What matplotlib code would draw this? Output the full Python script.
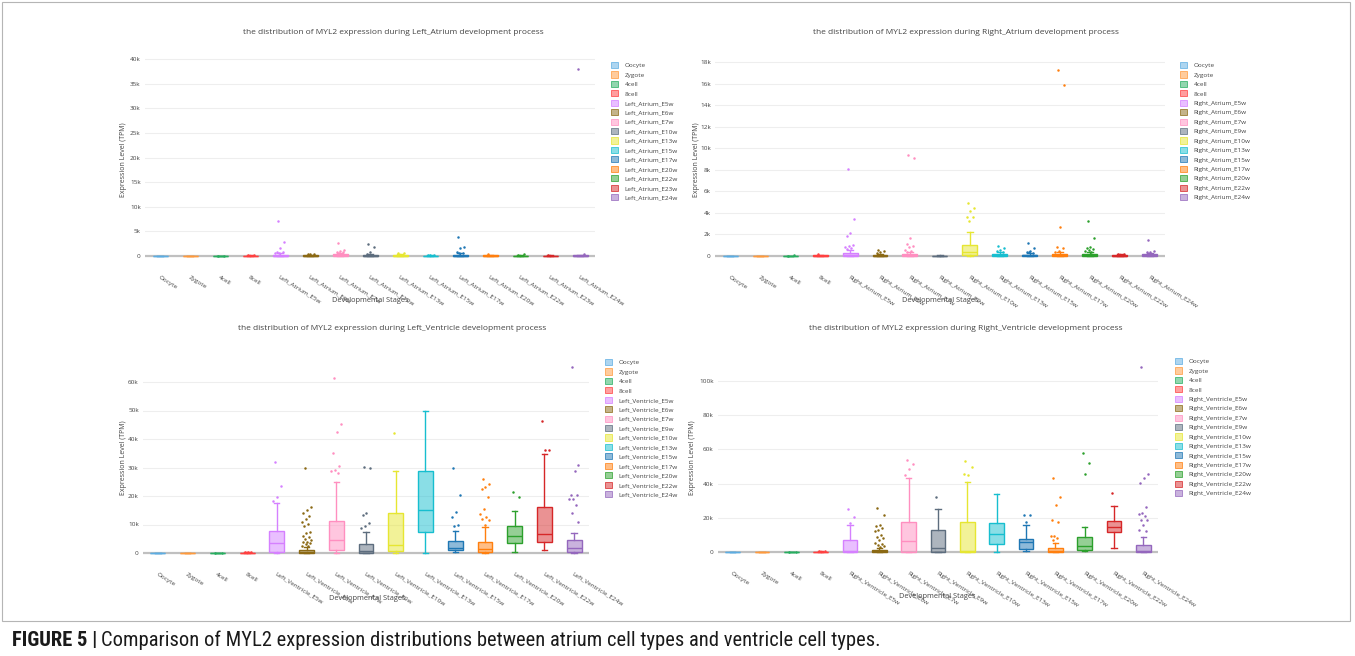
import matplotlib
matplotlib.use("Agg")
import matplotlib.pyplot as plt
from matplotlib.patches import Patch, Rectangle
from matplotlib.ticker import FuncFormatter
from matplotlib import font_manager as fm
import numpy as np

plt.rcParams['font.family'] = ['Open Sans', 'DejaVu Sans']

# ---------------- data (TPM) ----------------
BASE = ['Oocyte', 'Zygote', '4cell', '8cell']

LA_stages = BASE + ['Left_Atrium_E5w', 'Left_Atrium_E6w', 'Left_Atrium_E7w', 'Left_Atrium_E10w',
                    'Left_Atrium_E13w', 'Left_Atrium_E15w', 'Left_Atrium_E17w', 'Left_Atrium_E20w',
                    'Left_Atrium_E22w', 'Left_Atrium_E23w', 'Left_Atrium_E24w']
LA_q1 = [0, 0, 0, 10, 20, 5, 30, 10, 20, 5, 20, 10, 5, 5, 10]
LA_med = [0, 0, 0, 40, 80, 40, 120, 60, 100, 30, 100, 50, 40, 20, 60]
LA_q3 = [2, 3, 5, 80, 250, 120, 320, 180, 250, 80, 250, 120, 90, 60, 150]
LA_lo = [0, 0, 0, 0, 0, 0, 0, 0, 0, 0, 0, 0, 0, 0, 0]
LA_hi = [5, 6, 10, 150, 550, 280, 650, 400, 500, 180, 550, 250, 200, 120, 300]
LA_out = [[], [], [60, 90], [180, 220],
          [7100, 2850, 1650, 850, 720, 640, 600],
          [420, 380, 330],
          [2700, 1200, 1050, 900, 800, 700],
          [2500, 1900, 800, 450],
          [620, 580],
          [250, 220, 260],
          [3800, 1750, 1550, 900, 650, 700],
          [380],
          [300, 320],
          [150],
          [37900, 350]]

RA_stages = BASE + ['Right_Atrium_E5w', 'Right_Atrium_E6w', 'Right_Atrium_E7w', 'Right_Atrium_E9w',
                    'Right_Atrium_E10w', 'Right_Atrium_E13w', 'Right_Atrium_E15w', 'Right_Atrium_E17w',
                    'Right_Atrium_E20w', 'Right_Atrium_E22w', 'Right_Atrium_E24w']
RA_q1 = [0, 0, 0, 10, 20, 5, 20, 0, 120, 30, 20, 20, 30, 10, 20]
RA_med = [0, 0, 0, 30, 80, 30, 60, 10, 350, 80, 60, 80, 80, 40, 60]
RA_q3 = [2, 3, 5, 60, 250, 80, 150, 30, 1000, 180, 120, 200, 180, 80, 150]
RA_lo = [0, 0, 0, 0, 0, 0, 0, 0, 0, 0, 0, 0, 0, 0, 0]
RA_hi = [5, 6, 10, 120, 550, 180, 350, 60, 2200, 350, 250, 400, 350, 150, 280]
RA_out = [[], [], [40, 60], [150],
          [8050, 3400, 2100, 1850, 1000, 950, 800, 700, 650],
          [600, 420, 330, 250],
          [9350, 9050, 1700, 1100, 950, 800, 600, 450, 400],
          [],
          [4900, 4500, 4150, 3650, 3650, 3250],
          [900, 700, 550, 450, 400],
          [1200, 700, 500, 400, 300, 350],
          [17300, 15900, 2700, 850, 700, 450, 350],
          [3250, 1700, 820, 750, 650, 550, 450, 400],
          [200, 180],
          [1500, 450, 380, 350]]

LV_stages = BASE + ['Left_Ventricle_E5w', 'Left_Ventricle_E6w', 'Left_Ventricle_E7w', 'Left_Ventricle_E9w',
                    'Left_Ventricle_E10w', 'Left_Ventricle_E13w', 'Left_Ventricle_E15w', 'Left_Ventricle_E17w',
                    'Left_Ventricle_E20w', 'Left_Ventricle_E22w', 'Left_Ventricle_E24w']
LV_q1 = [0, 0, 0, 20, 500, 50, 1200, 100, 600, 7200, 1000, 200, 3400, 4000, 500]
LV_med = [0, 0, 0, 60, 3500, 300, 4400, 700, 2700, 15000, 1750, 1300, 5950, 6650, 1600]
LV_q3 = [5, 5, 10, 150, 7700, 900, 11400, 3150, 13900, 28600, 4100, 3850, 9300, 16300, 4400]
LV_lo = [0, 0, 0, 0, 0, 0, 0, 0, 0, 0, 300, 0, 300, 1200, 0]
LV_hi = [10, 10, 20, 300, 17500, 2000, 24900, 7500, 28800, 49700, 7800, 9000, 14800, 34900, 7000]
LV_out = [[], [], [100, 120], [300, 350, 250],
          [32000, 23600, 19800, 18300],
          [30000, 16100, 15000, 14000, 13000, 12000, 11000, 10200, 9500, 7500, 7000, 6000,
           5500, 5000, 4500, 4000, 3800, 3500, 3000, 2600, 2300],
          [61300, 45300, 42600, 35200, 30600, 29000, 28800, 27900],
          [30100, 29800, 14200, 13300, 10500, 9400, 8800],
          [42100],
          [],
          [30000, 20400, 14500, 12800, 9800, 9600],
          [25900, 24300, 23100, 22600, 19600, 15300, 13600, 12500, 12100, 11600, 9900],
          [21500, 19800],
          [46300, 36300, 36300],
          [65200, 31000, 28900, 20300, 20200, 19000, 18800, 16900, 14100, 11000]]

RV_stages = BASE + ['Right_Ventricle_E5w', 'Right_Ventricle_E6w', 'Right_Ventricle_E7w', 'Right_Ventricle_E9w',
                    'Right_Ventricle_E10w', 'Right_Ventricle_E13w', 'Right_Ventricle_E15w', 'Right_Ventricle_E17w',
                    'Right_Ventricle_E20w', 'Right_Ventricle_E22w', 'Right_Ventricle_E24w']
RV_q1 = [0, 0, 0, 20, 100, 50, 200, 200, 100, 4850, 1900, 200, 1200, 11650, 100]
RV_med = [0, 0, 0, 80, 300, 300, 6200, 2500, 400, 10700, 5800, 800, 3500, 14800, 500]
RV_q3 = [5, 5, 10, 200, 6800, 900, 17700, 12600, 17800, 16900, 7800, 2500, 8900, 18250, 4100]
RV_lo = [0, 0, 0, 0, 0, 0, 0, 0, 0, 0, 500, 0, 300, 2500, 0]
RV_hi = [10, 10, 20, 400, 15900, 2500, 43300, 25000, 41200, 34000, 15500, 5500, 14600, 27000, 8900]
RV_out = [[], [], [150, 180], [300, 350],
          [25200, 20600, 17100],
          [26000, 21600, 15500, 15000, 14200, 13000, 12000, 10000, 9000, 8000, 7000, 5000,
           4500, 4000, 3500, 3000],
          [53800, 51300, 48500, 45000],
          [32400],
          [53000, 49900, 45200, 45400],
          [],
          [21900, 21900, 17700],
          [43100, 32000, 27600, 18600, 17700, 9500, 9100, 8000, 7000],
          [58000, 52200, 45600],
          [34400],
          [108300, 45600, 43300, 40200, 26600, 23000, 22100, 21000, 19000, 18800, 15900, 12600, 12000]]

COLORS = ['#5dade2', '#ff9a3c', '#27ae60', '#ff4040', '#d580ff', '#8b6914', '#ff8fc0', '#5d6d7e',
          '#e6e632', '#17becf', '#1f77b4', '#ff7f0e', '#2ca02c', '#d62728', '#9467bd']

CAPTION_BOLD = 'FIGURE 5 |'
CAPTION_TEXT = 'Comparison of MYL2 expression distributions between atrium cell types and ventricle cell types.'

# ---------------- layout ----------------
W, H = 1355, 656
fig = plt.figure(figsize=(W / 100, H / 100), dpi=100)


def fx(px):
    return px / W


def fy(py):
    return 1 - py / H


panels = [
    dict(title='the distribution of MYL2 expression during Left_Atrium development process',
         stages=LA_stages, q1=LA_q1, med=LA_med, q3=LA_q3, lo=LA_lo, hi=LA_hi, out=LA_out,
         box=(145, 52, 595, 262), zero=256, ref=(59, 40000), ticks=np.arange(0, 40001, 5000),
         title_xy=(393, 32), ylab_xy=(123, 160), xlab_xy=(370, 300), leg_xy=(611, 62)),
    dict(title='the distribution of MYL2 expression during Right_Atrium development process',
         stages=RA_stages, q1=RA_q1, med=RA_med, q3=RA_q3, lo=RA_lo, hi=RA_hi, out=RA_out,
         box=(715, 52, 1165, 262), zero=256, ref=(62, 18000), ticks=np.arange(0, 18001, 2000),
         title_xy=(966, 32), ylab_xy=(697, 160), xlab_xy=(940, 301), leg_xy=(1180, 62)),
    dict(title='the distribution of MYL2 expression during Left_Ventricle development process',
         stages=LV_stages, q1=LV_q1, med=LV_med, q3=LV_q3, lo=LV_lo, hi=LV_hi, out=LV_out,
         box=(143, 360, 589, 559), zero=553, ref=(382, 60000), ticks=np.arange(0, 60001, 10000),
         title_xy=(392, 329), ylab_xy=(123, 458), xlab_xy=(367, 599), leg_xy=(605, 359)),
    dict(title='the distribution of MYL2 expression during Right_Ventricle development process',
         stages=RV_stages, q1=RV_q1, med=RV_med, q3=RV_q3, lo=RV_lo, hi=RV_hi, out=RV_out,
         box=(718, 360, 1158, 558), zero=552, ref=(381, 100000), ticks=np.arange(0, 100001, 20000),
         title_xy=(966, 328), ylab_xy=(693, 458), xlab_xy=(937, 597), leg_xy=(1175, 358)),
]

kfmt = FuncFormatter(lambda v, p: '0' if v == 0 else f'{int(round(v / 1000))}k')

for P in panels:
    l, t, r, b = P['box']
    ax = fig.add_axes([fx(l), fy(b), (r - l) / W, (b - t) / H])
    zero = P['zero']
    ref_px, ref_val = P['ref']
    per_px = ref_val / (zero - ref_px)
    ax.set_ylim(-(b - zero) * per_px, (zero - t) * per_px)
    n = len(P['stages'])
    ax.set_xlim(-0.5, n - 0.5)

    for i in range(n):
        c = COLORS[i]
        st = dict(q1=P['q1'][i], med=P['med'][i], q3=P['q3'][i],
                  whislo=P['lo'][i], whishi=P['hi'][i], fliers=[])
        ax.bxp([st], positions=[i], widths=0.5, patch_artist=True, showfliers=False,
               capwidths=[0.18],
               boxprops=dict(facecolor=matplotlib.colors.to_rgba(c, 0.5), edgecolor=c, linewidth=1.0),
               medianprops=dict(color=c, linewidth=1.0),
               whiskerprops=dict(color=c, linewidth=1.0),
               capprops=dict(color=c, linewidth=1.0), zorder=3)
        outs = P['out'][i]
        if outs:
            k = np.arange(len(outs))
            jit = ((k * 0.618 + 0.31) % 1.0 - 0.5) * 0.34
            ax.scatter(i + jit, outs, s=3.2, color=c, linewidths=0, zorder=4)

    ax.set_yticks(P['ticks'])
    ax.yaxis.set_major_formatter(kfmt)
    ax.grid(axis='y', color='#eeeeee', linewidth=0.8, zorder=0)
    ax.axhline(0, color='#c0c0c0', linewidth=1.6, zorder=2)
    ax.set_axisbelow(True)
    for s in ax.spines.values():
        s.set_visible(False)
    ax.tick_params(axis='y', length=0, labelsize=4.6, labelcolor='#444444', pad=3)
    ax.tick_params(axis='x', length=0, labelsize=4.6, labelcolor='#444444', pad=9)
    ax.set_xticks(range(n))
    ax.set_xticklabels(P['stages'], rotation=-32, ha='left', va='top', rotation_mode='anchor')

    fig.text(fx(P['title_xy'][0]), fy(P['title_xy'][1]), P['title'], ha='center', va='center',
             fontsize=6.0, color='#444444')
    fig.text(fx(P['ylab_xy'][0]), fy(P['ylab_xy'][1]), 'Expression Level (TPM)', rotation=90,
             ha='center', va='center', fontsize=5.0, color='#444444')
    fig.text(fx(P['xlab_xy'][0]), fy(P['xlab_xy'][1]), 'Developmental Stages', ha='center',
             va='center', fontsize=5.3, color='#444444')

    handles = [Patch(facecolor=matplotlib.colors.to_rgba(COLORS[i], 0.5), edgecolor=COLORS[i],
                     linewidth=0.5, label=P['stages'][i]) for i in range(n)]
    leg = ax.legend(handles=handles, loc='upper left',
                    bbox_to_anchor=(fx(P['leg_xy'][0]), fy(P['leg_xy'][1])),
                    bbox_transform=fig.transFigure, frameon=False, fontsize=4.6,
                    handlelength=1.1, handleheight=1.1, handletextpad=1.0,
                    labelspacing=0.50, borderaxespad=0, borderpad=0)
    for tx in leg.get_texts():
        tx.set_color('#444444')

# frame around the figure panel
fig.add_artist(Rectangle((fx(2), fy(621)), (1350 - 2) / W, (621 - 2) / H,
                         transform=fig.transFigure, fill=False, edgecolor='#b5b5b5', linewidth=0.8))


# caption: try to find a narrow / condensed sans font
def find_narrow(bold):
    prefs = ['liberation sans narrow', 'nimbus sans narrow', 'roboto condensed', 'open sans condensed',
             'noto sans condensed', 'dejavu sans condensed', 'dejavu sans']
    best = None
    best_rank = 999
    for f in fm.fontManager.ttflist:
        nm = f.name.lower()
        fname = f.fname.lower()
        narrow = ('narrow' in nm or 'condensed' in nm or 'narrow' in fname or 'condensed' in fname
                  or str(f.stretch) in ('condensed', 'semi-condensed', 'extra-condensed'))
        if not narrow or 'mono' in nm or 'italic' in fname or 'oblique' in fname:
            continue
        if f.style != 'normal':
            continue
        w = f.weight if isinstance(f.weight, int) else {'bold': 700, 'semibold': 600, 'normal': 400,
                                                         'regular': 400, 'book': 400}.get(str(f.weight), 400)
        if bold and w < 650:
            continue
        if not bold and (w >= 600 or w < 350):
            continue
        if 'serif' in nm and 'sans' not in nm:
            continue
        rank = 50
        for ri, p in enumerate(prefs):
            if p in nm or p.replace(' ', '') in fname.replace('-', ''):
                rank = ri
                break
        if rank < best_rank:
            best_rank, best = rank, f
    return best


nb = find_narrow(True)
nr = find_narrow(False)
if nb is not None and nr is not None:
    cap_size = 14.8
    fp_b = fm.FontProperties(fname=nb.fname, size=cap_size)
    fp_r = fm.FontProperties(fname=nr.fname, size=cap_size)
else:
    cap_size = 12.5
    fp_b = fm.FontProperties(family=['Liberation Sans', 'DejaVu Sans'], weight='bold', size=cap_size)
    fp_r = fm.FontProperties(family=['Liberation Sans', 'DejaVu Sans'], size=cap_size)

t1 = fig.text(fx(12), fy(640), CAPTION_BOLD, fontproperties=fp_b, color='#1a1a1a', ha='left', va='center')
fig.canvas.draw()
ext = t1.get_window_extent(renderer=fig.canvas.get_renderer())
fig.text(ext.x1 / W + 4 / W, fy(640), CAPTION_TEXT, fontproperties=fp_r, color='#1a1a1a',
         ha='left', va='center')

fig.savefig('out.png', dpi=100)
